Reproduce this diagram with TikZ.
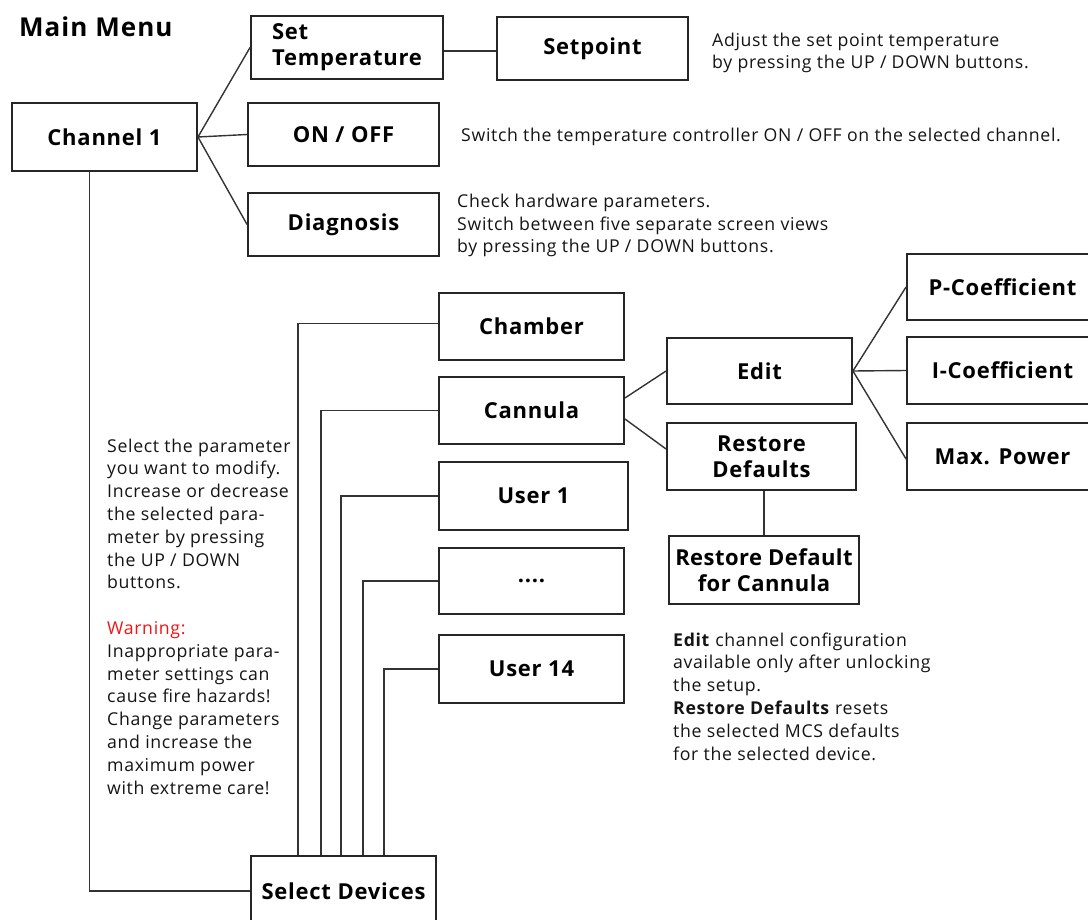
\documentclass[tikz,border=0pt]{standalone}
\usepackage{fontspec}
\setmainfont{Open Sans}
\usetikzlibrary{calc}
\definecolor{warnred}{RGB}{240,20,20}
\begin{document}
\begin{tikzpicture}[x=1pt,y=-1pt,
  box/.style={draw=black!85, line width=1.9pt, fill=white, inner sep=0pt,
    font=\fontsize{22}{28}\selectfont\bfseries\addfontfeature{LetterSpace=3.5}, align=center},
  conn/.style={draw=black!80, line width=1.4pt},
  desc/.style={inner sep=0pt, anchor=base west, align=left,
    font=\fontsize{17.7}{22.8}\selectfont\addfontfeature{LetterSpace=3.7}, text=black!92}]
\useasboundingbox (0,0) rectangle (1088,920);

\node[inner sep=0pt, anchor=base west, font=\fontsize{26}{28}\selectfont\bfseries\addfontfeature{LetterSpace=4}] (title) at (19,37) {Main Menu};

\node[box, minimum width=185pt, minimum height=68pt] (chan) at (104.5,137) {Channel 1};
\node[box, minimum width=192pt, minimum height=63pt, align=left] (settemp) at (347,47.5) {Set\\[-2pt]Temperature};
\node[box, minimum width=191pt, minimum height=63pt] (onoff) at (343.5,134.5) {ON / OFF};
\node[box, minimum width=191pt, minimum height=63pt] (diag) at (343.5,224.5) {Diagnosis};
\node[box, minimum width=191pt, minimum height=63pt] (setpoint) at (592.5,48.5) {Setpoint};

\node[box, minimum width=185pt, minimum height=67pt] (chamber) at (531.5,326.5) {Chamber};
\node[box, minimum width=185pt, minimum height=67pt] (cannula) at (531.5,410.5) {Cannula};
\node[box, minimum width=189pt, minimum height=68pt] (user1) at (533.5,496) {User 1};
\node[box, minimum width=185pt, minimum height=66pt] (dots) at (531.5,581) {....};
\node[box, minimum width=185pt, minimum height=68pt] (user14) at (531.5,669) {User 14};
\node[box, minimum width=185pt, minimum height=70pt] (seldev) at (343.5,891) {Select Devices};

\node[box, minimum width=185pt, minimum height=66pt] (edit) at (759.5,371) {Edit};
\node[box, minimum width=189pt, minimum height=67pt] (restdef) at (761.5,456.5) {Restore\\[-2pt]Defaults};
\node[box, minimum width=190pt, minimum height=68pt, font=\fontsize{22}{28}\selectfont\bfseries\addfontfeature{LetterSpace=2}] (rdfc) at (764,570) {Restore Default\\[-2pt]for Cannula};

\node[box, minimum width=191pt, minimum height=66pt] (pcoef) at (1002.5,287) {P-Coefficient};
\node[box, minimum width=191pt, minimum height=67pt] (icoef) at (1002.5,370.5) {I-Coefficient};
\node[box, minimum width=191pt, minimum height=67pt] (maxp) at (1002.5,456.5) {Max. Power};

% connectors
\draw[conn] (chan.east) -- (settemp.west);
\draw[conn] (chan.east) -- (onoff.west);
\draw[conn] (chan.east) -- (diag.west);
\draw[conn] ([yshift=-3.5pt]settemp.east) -- ([yshift=-2.5pt]setpoint.west);
\draw[conn] ([xshift=-15pt]chan.south) |- (seldev.west);

\draw[conn] ([xshift=48pt]seldev.north west) |- ([yshift=3pt]chamber.west);
\draw[conn] ([xshift=71pt]seldev.north west) |- (cannula.west);
\draw[conn] ([xshift=91pt]seldev.north west) |- (user1.west);
\draw[conn] ([xshift=113pt]seldev.north west) |- (dots.west);
\draw[conn] ([xshift=134pt]seldev.north west) |- (user14.west);

\draw[conn] ([yshift=12.5pt]cannula.east) -- (edit.west);
\draw[conn] ([yshift=-8.5pt]cannula.east) -- ([yshift=7.5pt]restdef.west);
\draw[conn] (edit.east) -- (pcoef.west);
\draw[conn] (edit.east) -- (icoef.west);
\draw[conn] (edit.east) -- ([yshift=-2.5pt]maxp.west);
\draw[conn] (rdfc.north |- restdef.south) -- (rdfc.north);

% descriptions
\node[desc] (d1) at (712,69) {Adjust the set point temperature\\by pressing the UP / DOWN buttons.};
\node[desc] (d2) at (461,142) {Switch the temperature controller ON / OFF on the selected channel.};
\node[desc] (d3) at (457,253) {Check hardware parameters.\\Switch between five separate screen views\\by pressing the UP / DOWN buttons.};
\node[desc] (d4) at (107,794) {Select the parameter\\you want to modify.\\Increase or decrease\\the selected para-\\meter by pressing\\the UP / DOWN\\buttons.\\[22.8pt]\textcolor{warnred}{Warning:}\\Inappropriate para-\\meter settings can\\cause fire hazards!\\Change parameters\\and increase the\\maximum power\\with extreme care!};
\node[desc] (d5) at (673,760) {\textbf{Edit} channel configuration\\available only after unlocking\\the setup.\\\textbf{Restore Defaults} resets\\the selected MCS defaults\\for the selected device.};
\end{tikzpicture}
\end{document}
